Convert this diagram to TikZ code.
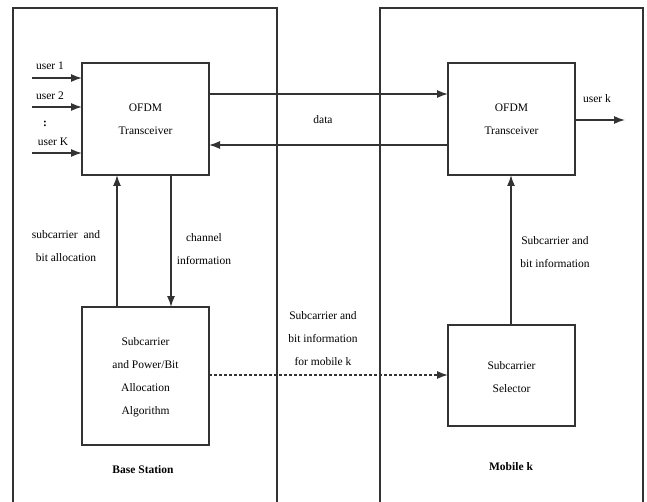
\documentclass[tikz,border=0pt]{standalone}
\usepackage{fontspec}
\setmainfont{Liberation Serif}
\usetikzlibrary{arrows.meta}
\begin{document}
\begin{tikzpicture}[x=1pt,y=-1pt,
  line/.style={draw=black!80,line width=1.4pt},
  arr/.style={line,-{Latex[length=11pt,width=8pt]}},
  blk/.style={line,fill=white},
  lbl/.style={font=\fontsize{11.5}{23}\selectfont,align=center,inner sep=0pt},
  ttl/.style={font=\fontsize{11.5}{12}\selectfont\bfseries,inner sep=0pt}]
\useasboundingbox (0,0) rectangle (647,502);
% enclosures
\draw[line] (13,502) -- (13,8) -- (277,8) -- (277,502);
\draw[line] (380,502) -- (380,8) -- (643,8) -- (643,502);
% blocks
\draw[blk] (82,63) rectangle (209,175);
\node[lbl] (ofdmL) at (145.5,119) {OFDM\\Transceiver};
\draw[blk] (448,63) rectangle (575,175);
\node[lbl] (ofdmR) at (511.5,119) {OFDM\\Transceiver};
\draw[blk] (82,307) rectangle (209,445);
\node[lbl] (alg) at (145.5,377.5) {Subcarrier\\and Power/Bit\\Allocation\\Algorithm};
\draw[blk] (448,325) rectangle (575,426);
\node[lbl] (sel) at (511.5,377) {Subcarrier\\Selector};
% named anchor coordinates
\coordinate (u1s) at (32,78);  \coordinate (u1e) at (82,78);
\coordinate (u2s) at (32,107); \coordinate (u2e) at (82,107);
\coordinate (uKs) at (32,153); \coordinate (uKe) at (82,153);
\coordinate (d1s) at (209,94);  \coordinate (d1e) at (448,94);
\coordinate (d2s) at (448,145); \coordinate (d2e) at (209,145);
\coordinate (uks) at (575,120); \coordinate (uke) at (625,120);
\coordinate (a1s) at (117,307); \coordinate (a1e) at (117,175);
\coordinate (c1s) at (171,175); \coordinate (c1e) at (171,307);
\coordinate (ds) at (209,375); \coordinate (de) at (448,375);
\coordinate (s1s) at (511,325); \coordinate (s1e) at (511,175);
% connectors
\draw[arr] (u1s) -- (u1e);
\draw[arr] (u2s) -- (u2e);
\draw[arr] (uKs) -- (uKe);
\draw[arr] (d1s) -- (d1e);
\draw[arr] (d2s) -- (d2e);
\draw[arr] (uks) -- (uke);
\draw[arr] (a1s) -- (a1e);
\draw[arr] (c1s) -- (c1e);
\draw[arr,dash pattern=on 3pt off 2pt] (ds) -- (de);
\draw[arr] (s1s) -- (s1e);
% labels
\node[lbl] (l1) at (50,66) {user 1};
\node[lbl] (l2) at (50,96) {user 2};
\node[lbl] (ld) at (45,124) {\textbf{:}};
\node[lbl] (lK) at (53,142) {user K};
\node[lbl] (lk) at (597,99) {user k};
\node[lbl] (data) at (323,120) {data};
\node[lbl] (sba) at (66,246) {subcarrier~ and\\bit allocation};
\node[lbl] (chi) at (204,249.5) {channel\\information};
\node[lbl] (sbi) at (323,339) {Subcarrier and\\bit information\\for mobile k};
\node[lbl] (sbi2) at (555,252.5) {Subcarrier and\\bit information};
\node[ttl] (bs) at (143,470) {Base Station};
\node[ttl] (mk) at (511,467) {Mobile k};
\end{tikzpicture}
\end{document}
